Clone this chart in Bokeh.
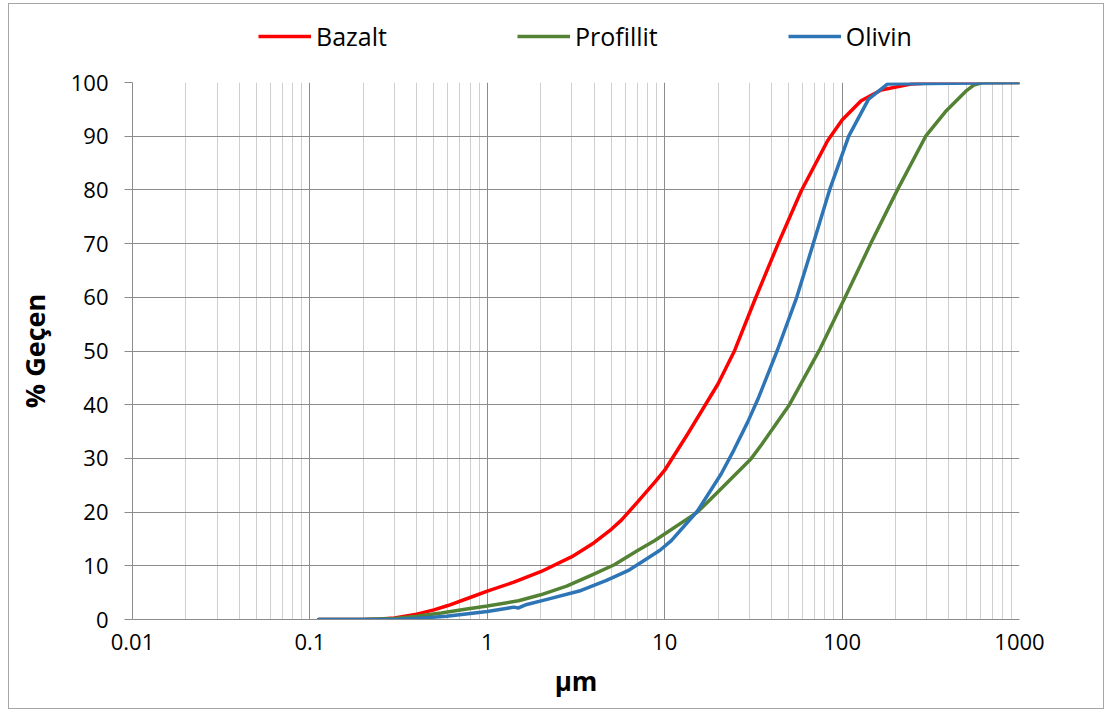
from bokeh.plotting import figure
from bokeh.layouts import column
from bokeh.models import (Range1d, FixedTicker, CustomJSTickFormatter, Legend, LegendItem)
from bokeh.embed import file_html
from bokeh.resources import INLINE

# Particle size distribution: cumulative % passing vs particle size (µm)
bazalt_x = [0.112, 0.2, 0.25, 0.3, 0.4, 0.5, 0.6, 0.8, 1.0, 1.4, 2.0, 3.0, 4.0, 5.0, 5.7,
            7.0, 8.8, 10, 13.5, 20, 24.8, 32.1, 35.2, 43.5, 58.8, 83, 100, 117, 128, 166,
            244, 350, 1000]
bazalt_y = [0, 0, 0.1, 0.3, 1.0, 1.8, 2.6, 4.1, 5.3, 6.9, 8.9, 11.7, 14.3, 16.8, 18.5,
            21.8, 25.6, 27.8, 34.6, 43.9, 50.1, 59.4, 62.6, 69.9, 79.8, 89.2, 93.0, 95.3,
            96.6, 98.6, 99.7, 100, 100]

profillit_x = [0.112, 0.2, 0.3, 0.4, 0.55, 0.75, 1.0, 1.5, 2.0, 2.8, 3.9, 5.2, 7.0, 8.8,
               15.3, 20, 30.8, 35.2, 50.5, 75.4, 104, 145, 205, 296, 388, 503, 552, 620,
               1000]
profillit_y = [0, 0, 0.2, 0.6, 1.2, 1.9, 2.5, 3.5, 4.6, 6.2, 8.3, 10.2, 12.8, 14.7,
               20.0, 23.8, 30.0, 32.6, 40.0, 50.5, 60.0, 70.0, 80.0, 90.0, 94.8, 98.5,
               99.5, 100, 100]

olivin_x = [0.112, 0.3, 0.39, 0.59, 1.0, 1.3, 1.41, 1.5, 1.67, 2.2, 3.3, 4.7, 6.3, 7.5,
            9.4, 10.9, 15.3, 20.8, 24.5, 29.4, 33.5, 43.0, 55.5, 68.8, 85, 109, 141, 180,
            1000]
olivin_y = [0, 0, 0.2, 0.6, 1.5, 2.1, 2.3, 2.15, 2.8, 3.8, 5.3, 7.3, 9.2, 10.8,
            12.9, 14.7, 20.2, 27.1, 31.5, 36.8, 41.0, 50.0, 60.0, 70.0, 80.0, 90.0,
            96.9, 99.7, 100]

x_ticks = [0.01, 0.1, 1, 10, 100, 1000]
x_tick_labels = ["0.01", "0.1", "1", "10", "100", "1000"]
y_ticks = [0, 10, 20, 30, 40, 50, 60, 70, 80, 90, 100]

series_names = ["Bazalt", "Profillit", "Olivin"]
series_colors = ["#FF0000", "#548235", "#2E75B6"]
series_x = [bazalt_x, profillit_x, olivin_x]
series_y = [bazalt_y, profillit_y, olivin_y]

FONT = "Open Sans"
LINE_W = 3.5

# --- legend strip across the top (its ranges keep the key renderers off-canvas) ---
head = figure(width=1094, height=60, x_range=Range1d(0, 1), y_range=Range1d(-2, -1),
              output_backend="svg", toolbar_location=None,
              min_border_left=0, min_border_right=0, min_border_top=0, min_border_bottom=0)
head.axis.visible = False
head.grid.visible = False
head.outline_line_color = None
head.border_fill_color = "white"

key_lines = [head.line(xs, ys, line_color=c, line_width=LINE_W)
             for xs, ys, c in zip(series_x, series_y, series_colors)]
legend = Legend(items=[LegendItem(label=n, renderers=[r]) for n, r in zip(series_names, key_lines)],
                orientation="horizontal", location=(126, 11),
                glyph_width=53, glyph_height=20, label_standoff=5, spacing=130,
                padding=0, margin=0, border_line_color=None, background_fill_alpha=0,
                label_text_font=FONT, label_text_font_size="25px", label_text_color="#000000",
                label_height=20)
head.add_layout(legend)

# --- main chart ---
p = figure(width=1094, height=644, x_axis_type="log",
           x_range=Range1d(0.01, 1000), y_range=Range1d(0, 100),
           output_backend="svg", toolbar_location=None,
           min_border_left=123, min_border_right=84, min_border_top=18,
           min_border_bottom=89)
p.outline_line_color = None
p.background_fill_color = "white"
p.border_fill_color = "white"

minor = []
for d in x_ticks[:-1]:
    for m in range(2, 10):
        minor.append(d * m)

p.xaxis.ticker = FixedTicker(ticks=x_ticks, minor_ticks=minor)
p.xaxis.formatter = CustomJSTickFormatter(
    args=dict(tick_values=x_ticks, tick_texts=x_tick_labels),
    code="""
    for (let i = 0; i < tick_values.length; i++) {
        if (Math.abs(Math.log10(tick_values[i]) - Math.log10(tick)) < 1e-6) return tick_texts[i];
    }
    return "";
    """)
p.yaxis.ticker = FixedTicker(ticks=y_ticks)

for ax in (p.xaxis, p.yaxis):
    ax.axis_line_color = "#8c8c8c"
    ax.axis_line_width = 1
    ax.major_tick_line_color = "#8c8c8c"
    ax.minor_tick_line_color = None
    ax.major_label_text_font = FONT
    ax.major_label_text_font_size = "22px"
    ax.major_label_text_color = "#000000"
    ax.axis_label_text_font = FONT
    ax.axis_label_text_font_style = "bold"
    ax.axis_label_text_color = "#000000"

p.xaxis.major_tick_out = 0
p.xaxis.major_tick_in = 0
p.xaxis.major_label_standoff = 10
p.xaxis.axis_label = "µm"
p.xaxis.axis_label_text_font_size = "26px"
p.xaxis.axis_label_standoff = 10
p.yaxis.major_tick_out = 8
p.yaxis.major_tick_in = 0
p.yaxis.major_label_standoff = 16
p.yaxis.axis_label = "% Geçen"
p.yaxis.axis_label_text_font_size = "27px"
p.yaxis.axis_label_standoff = 15

p.xgrid.grid_line_color = "#8c8c8c"
p.xgrid.minor_grid_line_color = "#cfcfcf"
p.xgrid.grid_line_width = 1
p.ygrid.grid_line_color = "#8c8c8c"
p.ygrid.grid_line_width = 1

for xs, ys, c in zip(series_x, series_y, series_colors):
    p.line(xs, ys, line_color=c, line_width=LINE_W, line_join="round", line_cap="round")

layout = column(head, p, spacing=0)
layout.styles = {"margin-left": "8px", "margin-top": "3px", "border": "1px solid #a6a6a6",
                 "background": "white"}

open("out.html", "w").write(file_html(layout, INLINE))
